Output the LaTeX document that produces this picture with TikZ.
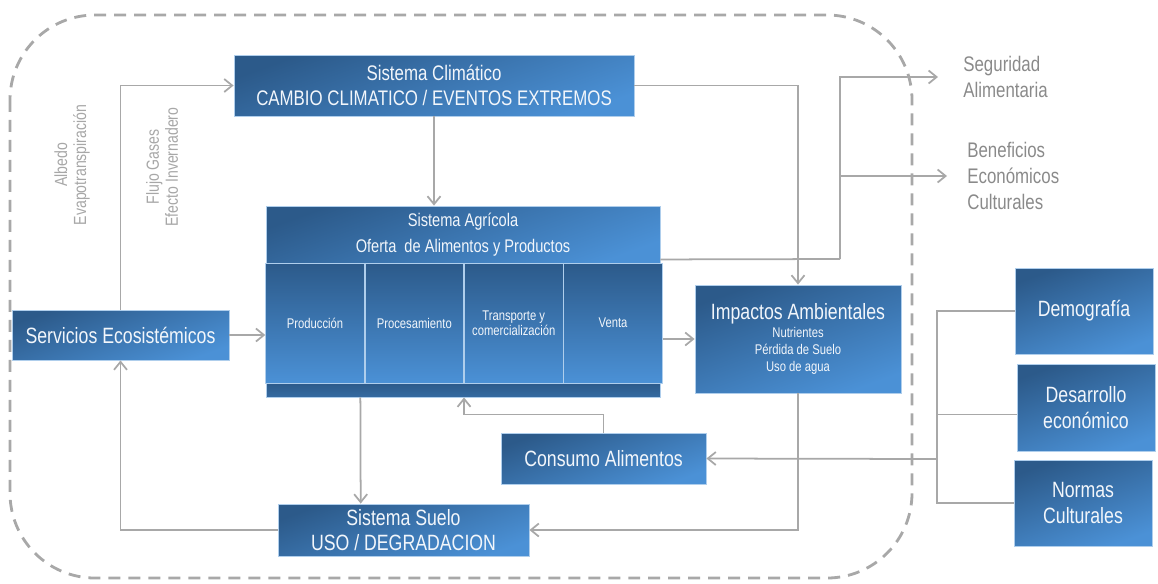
\documentclass[tikz,border=0pt]{standalone}
\usepackage{fontspec}
\setmainfont{Liberation Sans}[FakeStretch=0.8]
\usetikzlibrary{positioning}
\usetikzlibrary{arrows.meta}
\usetikzlibrary{calc}
\definecolor{boxdark}{HTML}{2C5A8A}
\definecolor{boxlight}{HTML}{4B91D6}
\definecolor{linegray}{HTML}{A8A8A8}
\definecolor{textgray}{HTML}{8A8A8A}
\definecolor{boxtext}{HTML}{F2F6FB}

\begin{document}
\begin{tikzpicture}[x=0.02cm, y=-0.02cm]
    % Stili per i blocchi e le frecce
    \tikzset{
        sys box/.style={
            draw=boxtext!60!boxlight,
            line width=0.5pt,
            top color=boxdark,
            bottom color=boxlight,
            shading angle=20,
            text=boxtext,
            align=center,
            inner sep=0pt,
            font=\fontsize{12.6}{14.6}\selectfont
        },
        cell box/.style={
            sys box,
            shading angle=0,
            minimum width=1.97cm,
            minimum height=2.4cm,
            font=\fontsize{8}{8.6}\selectfont
        },
        out text/.style={
            text=textgray,
            align=left,
            inner sep=0pt,
            font=\fontsize{12}{14.8}\selectfont
        },
        side text/.style={
            text=textgray!75!white,
            align=center,
            inner sep=0pt,
            rotate=90,
            font=\fontsize{10}{10.8}\selectfont
        },
        conn/.style={
            draw=linegray,
            line width=1pt,
            -{Straight Barb[length=1.6mm,width=2.6mm]}
        },
        conn line/.style={
            draw=linegray,
            line width=1pt
        }
    }

    \useasboundingbox (0,0) rectangle (1158,583);

    % Confine del sistema
    \draw[linegray, line width=1.6pt, dash pattern=on 2.4mm off 1.6mm,
        rounded corners=1.7cm] (10,15) rectangle (912,578);

    % Blocchi
    \node[sys box, minimum width=8cm, minimum height=1.22cm,
        font=\fontsize{12}{14.3}\selectfont] (clima) at (434,85.5)
        {Sistema Climático\\CAMBIO CLIMATICO / EVENTOS EXTREMOS};

    \node[sys box, minimum width=7.88cm, minimum height=1.14cm,
        font=\fontsize{10.4}{15}\selectfont] (agri) at (463,234.5)
        {Sistema Agrícola\\Oferta\ \ de Alimentos y Productos};

    \node[cell box] (prod) at (315,323) {Producción};
    \node[cell box, right=0pt of prod] (proc) {Procesamiento};
    \node[cell box, right=0pt of proc] (trans) {Transporte y\\comercialización};
    \node[cell box, right=0pt of trans] (venta) {Venta};

    \node[sys box, top color=boxdark, bottom color=boxdark!70!boxlight,
        shading angle=0, minimum width=7.88cm, minimum height=0.28cm] (barra) at (463,390) {};

    \node[sys box, minimum width=4.12cm, minimum height=2.16cm,
        font=\fontsize{8}{9.6}\selectfont] (impac) at (798,339)
        {{\fontsize{12.6}{14}\selectfont Impactos Ambientales}\\[0.6pt]Nutrientes\\Pérdida de Suelo\\Uso de agua};

    \node[sys box, minimum width=4.34cm, minimum height=1cm] (servi) at (120.5,335)
        {Servicios Ecosistémicos};

    \node[sys box, minimum width=4.1cm, minimum height=1.02cm] (consu) at (603.5,458.5)
        {Consumo Alimentos};

    \node[sys box, minimum width=5.02cm, minimum height=1.04cm] (suelo) at (403.5,530)
        {Sistema Suelo\\USO / DEGRADACION};

    % Fattori esterni
    \node[sys box, minimum width=2.76cm, minimum height=1.72cm] (demo) at (1084,311) {Demografía};
    \node[sys box, minimum width=2.76cm, minimum height=1.74cm] (desa) at (1086,407.5) {Desarrollo\\económico};
    \node[sys box, minimum width=2.76cm, minimum height=1.72cm] (norma) at (1083,503) {Normas\\Culturales};

    % Testi esterni
    \node[out text, anchor=west] (segur) at (963,77) {Seguridad\\Alimentaria};
    \node[out text, anchor=west] (benef) at (967,176) {Beneficios\\Económicos\\Culturales};

    \node[side text] (albedo) at (72,165) {Albedo\\Evapotranspiración};
    \node[side text] (flujo) at (162,167) {Flujo Gases\\Efecto Invernadero};

    % Frecce
    \draw[conn] (servi.north) |- (clima.west);
    \draw[conn] (servi.east) -- (servi.east -| prod.west);
    \draw[conn] (clima.south) -- (clima.south |- agri.north);
    \draw[conn] (clima.east) -| (impac.north);

    \coordinate (rama) at (840,259);
    \draw[conn line] ([yshift=0.08cm]agri.south east) -- (rama);
    \draw[conn] (rama) |- ([xshift=-0.5cm]segur.west);
    \draw[conn] (rama) |- ([xshift=-0.4cm]benef.west);

    \draw[conn] (venta.east |- impac.west) -- (impac.west);
    \draw[conn] (impac.south) |- (suelo.east);
    \draw[conn] ($(barra.south west)!0.24!(barra.south east)$)
        -- ($(suelo.north west)!0.33!(suelo.north east)$);
    \draw[conn] (consu.north) -- ++(0,-18) -| (barra.south -| trans.west);
    \draw[conn] (suelo.west) -| (servi.south);

    \coordinate (enlace) at (937,459);
    \draw[conn line] (demo.west) -| (enlace);
    \draw[conn line] (norma.west) -| (enlace);
    \draw[conn line] ([yshift=-0.14cm]desa.west) -- ([yshift=-0.14cm]desa.west -| enlace);
    \draw[conn] (enlace) -- (consu.east);
\end{tikzpicture}
\end{document}
